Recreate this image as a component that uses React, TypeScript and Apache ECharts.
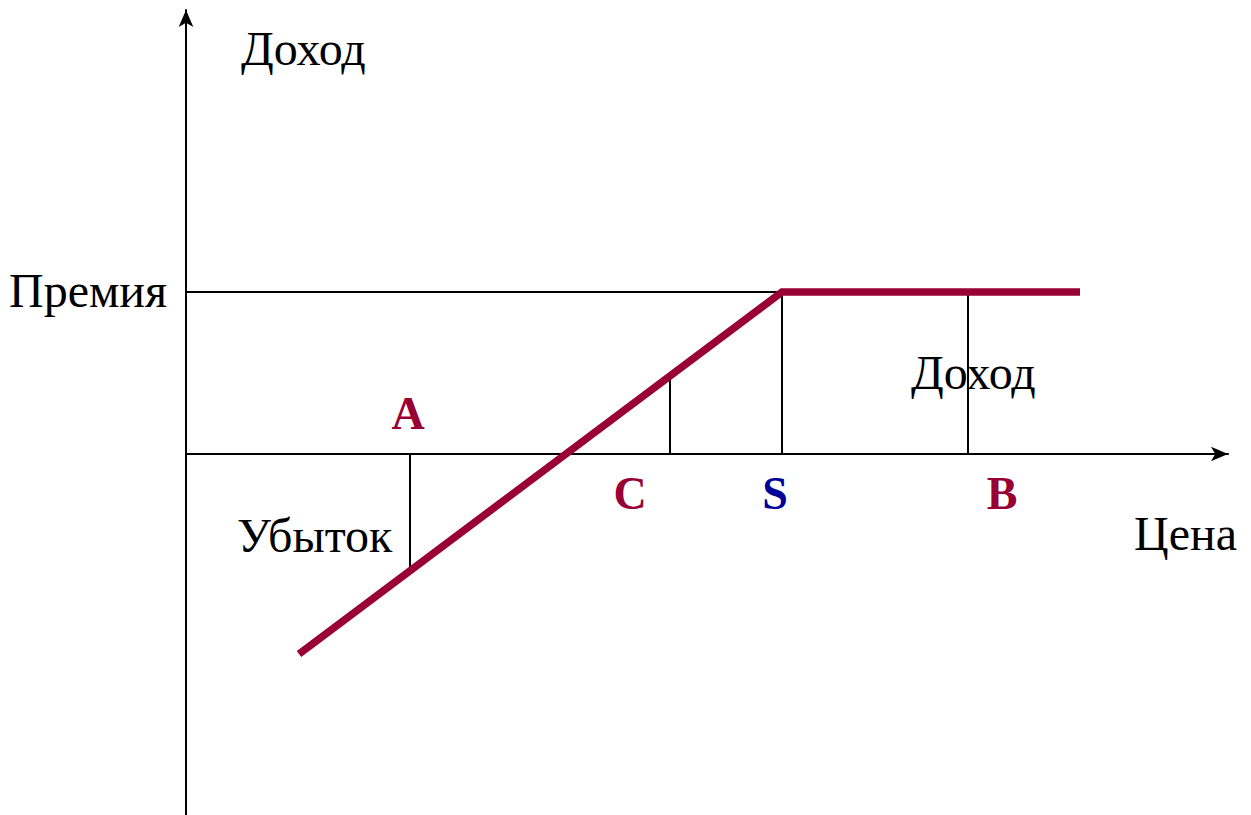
import React, { useEffect, useRef } from "react";
import * as echarts from "echarts";

// Price axis range and profit axis range (units: price / profit)
const xRange = [0, 104.2];
const yRange = [-36.1, 44.4];

// Short put payoff: premium, strike S
const payoff: [number, number][] = [
  [11.3, -20.0],
  [59.6, 16.2],
  [89.4, 16.2],
];

// Guide lines
const premiumLine: [number, number][] = [
  [0, 16.2],
  [59.6, 16.2],
];
const markerA: [number, number][] = [
  [22.4, 0],
  [22.4, -11.7],
];
const markerC: [number, number][] = [
  [48.4, 0],
  [48.4, 7.8],
];
const markerS: [number, number][] = [
  [59.6, 0],
  [59.6, 16.2],
];
const markerB: [number, number][] = [
  [78.2, 0],
  [78.2, 16.2],
];

const MAROON = "#990033";
const BLUE = "#000099";
const FONT = "'Liberation Serif', 'Times New Roman', serif";

export default function App() {
  const ref = useRef<HTMLDivElement>(null);
  useEffect(() => {
    if (!ref.current) return;
    const chart = echarts.init(ref.current, undefined, { renderer: "svg" });
    const guide = (data: [number, number][]) => ({
      type: "line",
      data,
      symbol: "none",
      silent: true,
      lineStyle: { color: "#000", width: 2 },
      z: 3,
    });
    const txt = (
      text: string,
      x: number,
      y: number,
      opts: { color?: string; size?: number; bold?: boolean; align?: string } = {}
    ) => ({
      type: "text",
      x,
      y,
      style: {
        text,
        fill: opts.color || "#000",
        font: `${opts.bold ? "bold " : ""}${opts.size || 48}px ${FONT}`,
        align: opts.align || "left",
        verticalAlign: "middle",
      },
      z: 10,
    });
    chart.setOption({
      animation: false,
      backgroundColor: "#fff",
      grid: { left: 186, right: 23, top: 10, bottom: 0 },
      xAxis: {
        type: "value",
        min: xRange[0],
        max: xRange[1],
        axisLine: {
          show: true,
          onZero: true,
          symbol: ["none", "arrow"],
          symbolSize: [11, 17],
          lineStyle: { color: "#000", width: 2 },
        },
        axisTick: { show: false },
        axisLabel: { show: false },
        splitLine: { show: false },
      },
      yAxis: {
        type: "value",
        min: yRange[0],
        max: yRange[1],
        axisLine: {
          show: true,
          onZero: false,
          symbol: ["none", "arrow"],
          symbolSize: [11, 17],
          lineStyle: { color: "#000", width: 2 },
        },
        axisTick: { show: false },
        axisLabel: { show: false },
        splitLine: { show: false },
      },
      series: [
        guide(premiumLine),
        guide(markerA),
        guide(markerC),
        guide(markerS),
        guide(markerB),
        {
          type: "line",
          data: payoff,
          symbol: "none",
          silent: true,
          lineStyle: { color: MAROON, width: 7.5, cap: "butt", join: "miter" },
          z: 5,
        },
      ],
      graphic: [
        txt("Доход", 241, 48),
        txt("Премия", 9, 290),
        txt("A", 408, 413, { color: MAROON, bold: true, size: 46, align: "center" }),
        txt("C", 630, 493, { color: MAROON, bold: true, size: 46, align: "center" }),
        txt("S", 775, 493, { color: BLUE, bold: true, size: 46, align: "center" }),
        txt("B", 1002, 493, { color: MAROON, bold: true, size: 46, align: "center" }),
        txt("Доход", 911, 372),
        txt("Убыток", 237, 535),
        txt("Цена", 1134, 533),
      ],
    });
    return () => chart.dispose();
  }, []);
  return (
    <div
      ref={ref}
      style={{ position: "absolute", left: 0, top: 0, width: 1251, height: 815, background: "#fff" }}
    />
  );
}
